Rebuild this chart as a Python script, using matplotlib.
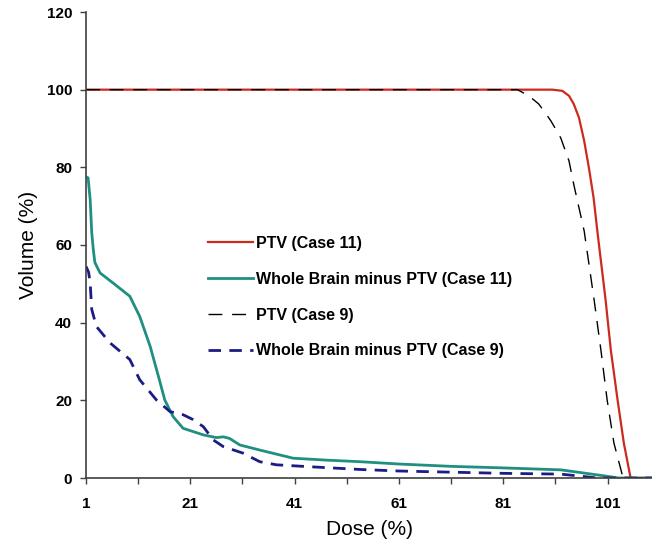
import matplotlib
matplotlib.use('Agg')
import matplotlib.pyplot as plt

# DVH curves: dose (%) vs. volume (%)
ptv11_dose = [1, 90.4, 92.3, 93.6, 94.5, 95.5, 96.5, 97.4, 98.3, 99.1, 100.6, 101.6, 102.9,
              104.1, 105.4, 109.5]
ptv11_vol = [100, 100, 99.7, 98.4, 96.3, 92.8, 86.8, 79.9, 72.2, 62.7, 45.9, 33.0, 20.1,
             9.0, 0, 0]

brain11_dose = [1, 1.4, 1.8, 2.1, 2.4, 2.7, 3.7, 6.2, 9.4, 11.3, 13.3, 14.9, 16.1, 17.7, 19.6,
                23.5, 26, 27.3, 28.5, 30.5, 34.3, 40.7, 47.1, 53.5, 61, 71, 81, 92, 95.8, 99,
                101.6, 103, 109.5]
brain11_vol = [77.5, 77.3, 71.7, 63.2, 58.8, 55.5, 52.8, 50.2, 46.8, 41.6, 33.9, 26.1, 20.1, 15.8, 12.8,
               11.1, 10.4, 10.6, 10.2, 8.5, 7.2, 5.1, 4.6, 4.2, 3.6, 3.0, 2.6, 2.1, 1.4, 0.8,
               0.3, 0, 0]

ptv9_dose = [1, 83.7, 85.9, 87.8, 90.1, 92.0, 93.6, 94.5, 95.5, 96.5, 98.4, 99.7, 100.9,
             102.2, 103.8, 104.3, 109.5]
ptv9_vol = [100, 100, 98.4, 96.3, 92.0, 87.6, 81.6, 75.6, 69.6, 63.6, 45.9, 33.0, 20.1,
            9.0, 0.8, 0, 0]

brain9_dose = [1, 1.5, 1.8, 2.1, 3.0, 5.6, 9.4, 11.3, 14.5, 17.1, 19.6, 21.6, 23.5, 25.4, 27.3,
               31.1, 34.3, 37.5, 43.9, 53.5, 61, 71, 81, 92, 97, 99, 109.5]
brain9_vol = [54.5, 53, 50.2, 43.4, 39, 34.8, 30.5, 25.3, 20.1, 17.1, 16.3, 15.0, 13.2, 9.8, 8.1,
              6.4, 4.2, 3.4, 2.9, 2.2, 1.8, 1.5, 1.2, 1.0, 0.3, 0, 0]

labels = ['PTV (Case 11)', 'Whole Brain minus PTV (Case 11)',
          'PTV (Case 9)', 'Whole Brain minus PTV (Case 9)']
x_ticks = [1, 21, 41, 61, 81, 101]
x_minor = [11, 31, 51, 71, 91]
y_ticks = [0, 20, 40, 60, 80, 100, 120]

plt.rcParams['font.family'] = ['Liberation Sans', 'DejaVu Sans']

fig = plt.figure(figsize=(6.52, 5.5), dpi=100)
ax = fig.add_axes([86 / 652, 72 / 550, 1 - 86 / 652, (478 - 12) / 550])

ax.plot(ptv11_dose, ptv11_vol, color='#cc2a1e', lw=1.6, label=labels[0])
ax.plot(brain11_dose, brain11_vol, color='#1f8f80', lw=2.0, label=labels[1])
ax.plot(ptv9_dose, ptv9_vol, color='black', lw=1.0, dashes=(10, 7), label=labels[2])
ax.plot(brain9_dose, brain9_vol, color='#1c1c86', lw=2.0, dashes=(4.5, 3), label=labels[3])

ax.set_xlim(1, 109.5)
ax.set_ylim(0, 120)
ax.set_xticks(x_ticks)
ax.set_xticks(x_minor, minor=True)
ax.set_yticks(y_ticks)
ax.tick_params(axis='both', which='both', direction='out', length=4, width=1,
               color='#404040', labelsize=11)
ax.tick_params(axis='x', pad=10)
ax.tick_params(axis='y', pad=6)
for lbl in ax.get_xticklabels() + ax.get_yticklabels():
    lbl.set_fontweight('bold')

for side in ['top', 'right']:
    ax.spines[side].set_visible(False)
for side in ['left', 'bottom']:
    ax.spines[side].set_color('#404040')
    ax.spines[side].set_linewidth(1.2)

ax.set_xlabel('Dose (%)', fontsize=15, labelpad=6)
ax.set_ylabel('Volume (%)', fontsize=15, labelpad=6)

leg = ax.legend(loc='upper left', bbox_to_anchor=(0.19, 0.55), frameon=False,
                prop={'weight': 'bold', 'size': 11.5}, handlelength=2.8,
                handletextpad=0.2, labelspacing=1.3)

fig.savefig('out.png', dpi=100)
